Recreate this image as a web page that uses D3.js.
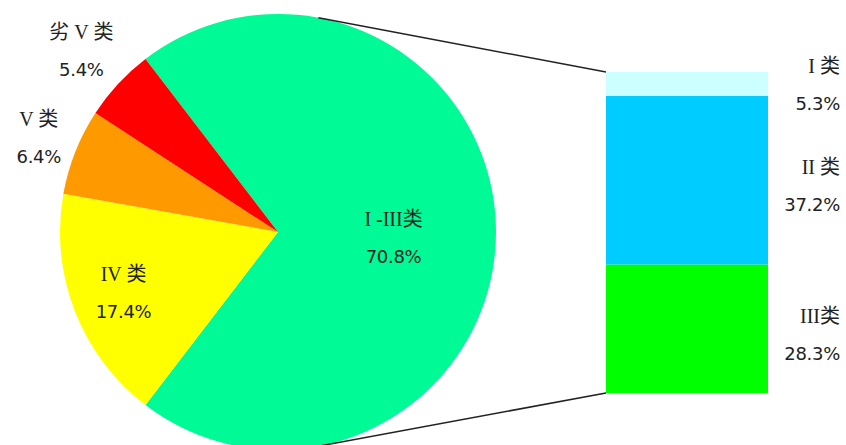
<!DOCTYPE html>
<html>
<head>
    <meta charset="utf-8">
    <title>水质类别比例</title>
    <script src="https://d3js.org/d3.v7.min.js"></script>
    <style>
        body { margin: 0; background: #fff; }
        text { fill: #222; }
    </style>
</head>
<body>
<script>
    // pie: share of each water class (%)
    var pieNames = ["I -III类", "IV 类", "V 类", "劣 V 类"];
    var pieValues = [70.8, 17.4, 6.4, 5.4];
    var pieColors = ["#00fa96", "#ffff00", "#ff9900", "#ff0000"];

    // bar: breakdown of I-III, top to bottom
    var barNames = ["I 类", "II 类", "III类"];
    var barValues = [5.3, 37.2, 28.3];
    var barColors = ["#ccffff", "#00ccff", "#00ff00"];

    var width = 846, height = 445;
    var cx = 278, cy = 232, r = 218;
    var barX = 606, barW = 162, barTop = 72, barBottom = 393;

    // how far from the centre each pie label sits (fraction of radius)
    var labelRadius = [0.53, 0.76, 1.18, 1.23];

    var svg = d3.select("body").append("svg")
        .attr("width", width)
        .attr("height", height);

    // green slice is centred on the right side, facing the bar
    var span = pieValues[0] / d3.sum(pieValues) * 2 * Math.PI;
    var pie = d3.pie().sort(null)
        .startAngle(Math.PI / 2 - span / 2)
        .endAngle(Math.PI / 2 - span / 2 + 2 * Math.PI);
    var arcs = pie(pieValues);

    var arc = d3.arc().innerRadius(0).outerRadius(r);

    var g = svg.append("g").attr("transform", "translate(" + cx + "," + cy + ")");

    g.selectAll("path.slice")
        .data(arcs)
        .enter().append("path")
        .attr("class", "slice")
        .attr("d", arc)
        .attr("fill", function(d, i) { return pieColors[i]; });

    // bar of the I-III part
    var y = d3.scaleLinear()
        .domain([0, d3.sum(barValues)])
        .range([barTop, barBottom]);

    var cum = 0;
    var barData = barValues.map(function(v, i) {
        var d = { name: barNames[i], value: v, y0: cum, y1: cum + v, color: barColors[i] };
        cum += v;
        return d;
    });

    svg.selectAll("rect.seg")
        .data(barData)
        .enter().append("rect")
        .attr("class", "seg")
        .attr("x", barX)
        .attr("width", barW)
        .attr("y", function(d) { return y(d.y0); })
        .attr("height", function(d) { return y(d.y1) - y(d.y0); })
        .attr("fill", function(d) { return d.color; });

    // connector lines, tangent from the bar corners to the pie
    function tangent(px, py, upper) {
        var dx = px - cx, dy = py - cy;
        var dist = Math.sqrt(dx * dx + dy * dy);
        var base = Math.atan2(dy, dx);
        var off = Math.acos(r / dist);
        var a = upper ? base - off : base + off;
        return [cx + r * Math.cos(a), cy + r * Math.sin(a)];
    }
    [[barTop, true], [barBottom, false]].forEach(function(c) {
        var t = tangent(barX, c[0], c[1]);
        svg.append("line")
            .attr("x1", t[0]).attr("y1", t[1])
            .attr("x2", barX).attr("y2", c[0])
            .attr("stroke", "#222")
            .attr("stroke-width", 1.5);
    });

    var nameFont = "'Liberation Serif', 'Noto Sans CJK SC', serif";
    var pctFont = "'DejaVu Sans', sans-serif";

    function addLabel(sel, name, pct, x, yMid, anchor) {
        sel.append("text")
            .attr("x", x).attr("y", yMid - 11)
            .attr("text-anchor", anchor)
            .attr("font-family", nameFont)
            .attr("font-size", 20)
            .text(name);
        sel.append("text")
            .attr("x", x).attr("y", yMid + 26)
            .attr("text-anchor", anchor)
            .attr("font-family", pctFont)
            .attr("font-size", 18)
            .attr("fill", "#333")
            .attr("letter-spacing", -0.3)
            .text(pct.toFixed(1) + "%");
    }

    arcs.forEach(function(d, i) {
        var a = (d.startAngle + d.endAngle) / 2;
        var lr = r * labelRadius[i];
        var lx = cx + lr * Math.sin(a);
        var ly = cy - lr * Math.cos(a) + (i === 0 ? 5 : 0);
        addLabel(svg, pieNames[i], pieValues[i], lx, ly, "middle");
    });

    barData.forEach(function(d) {
        var mid = (y(d.y0) + y(d.y1)) / 2;
        var ly = d.value < 10 ? y(d.y0) + 12 : mid + 5;
        addLabel(svg, d.name, d.value, 840, ly, "end");
    });
</script>
</body>
</html>
